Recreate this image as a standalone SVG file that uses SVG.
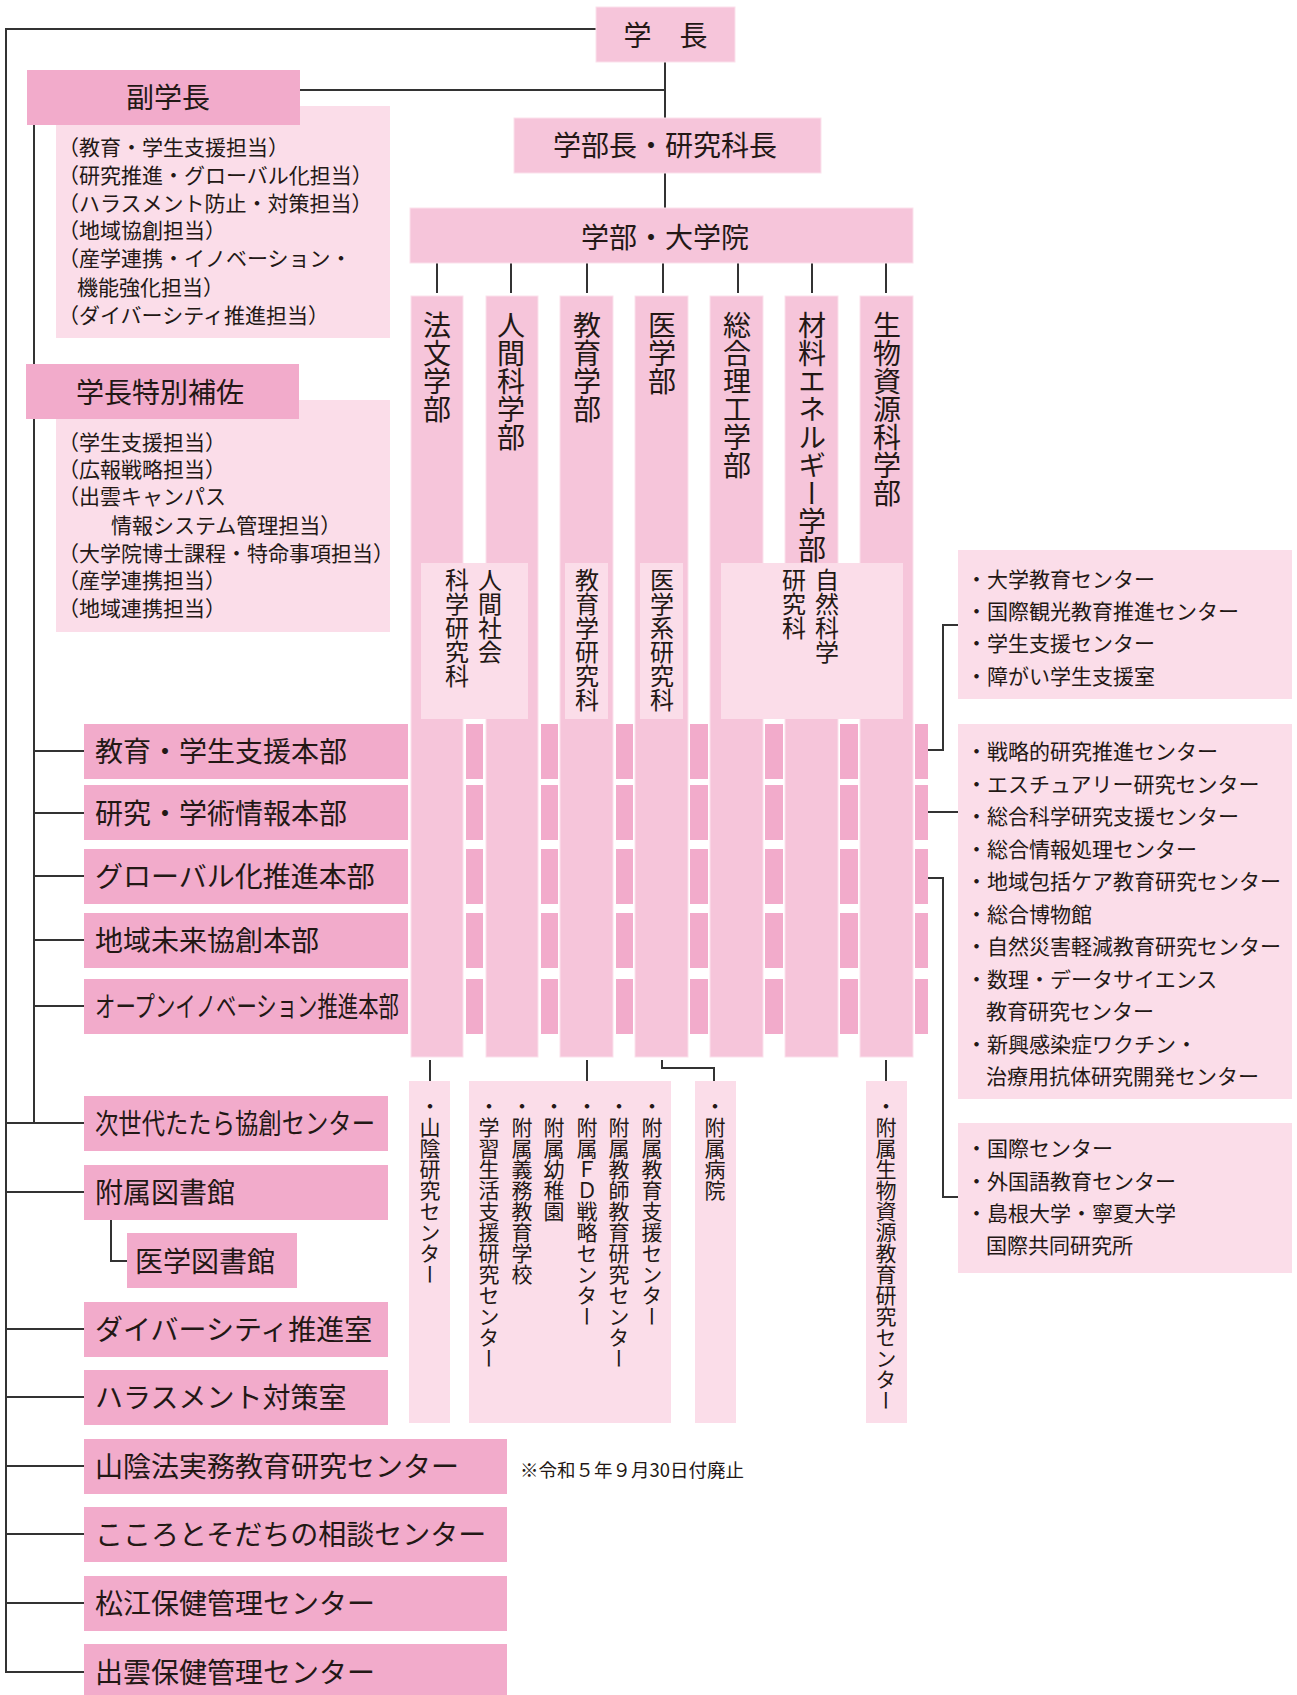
<svg xmlns="http://www.w3.org/2000/svg" width="1297" height="1695" viewBox="0 0 1297 1695">
<style>
text{font-family:"Noto Sans CJK JP","Noto Sans CJK SC",sans-serif;fill:#231815;dominant-baseline:central}
text:not(.v){transform:translateY(-1.5px)}
.dk{fill:#f2abcb}
.md{fill:#f6c5da;stroke:#fbe1ec;stroke-width:1}
.lt{fill:#fbdde9}
.t28{font-size:28px}
.t24{font-size:24px}
.t21{font-size:21px}
.c{text-anchor:middle}
.v{writing-mode:vertical-rl}
.ln{stroke:#333;stroke-width:2;fill:none}
</style>
<rect width="1297" height="1695" fill="#fff"/>
<g id="connectors">
<path class="ln" d="M596,29 H6 V1672 H84"/>
<path class="ln" d="M6,1123 H84 M6,1192 H84 M6,1329 H84 M6,1397 H84 M6,1466 H84 M6,1534 H84 M6,1603 H84"/>
<path class="ln" d="M300,90 H665 M34,125 V1123 M34,751 H84 M34,813 H84 M34,876 H84 M34,940 H84 M34,1006 H84"/>
<path class="ln" d="M665,62 V118 M665,173 V208"/>
<path class="ln" d="M437,263 V293 M511,263 V293 M587,263 V293 M663,263 V293 M738,263 V293 M812,263 V293 M886,263 V293"/>
<path class="ln" d="M430,1060 V1081 M587,1060 V1081 M662,1060 V1068 H714 V1081 M886,1060 V1081"/>
<path class="ln" d="M928,750 H943 V625 H958 M928,812 H958 M928,878 H943 V1197 H958"/>
<path class="ln" d="M111,1220 V1261 H127"/>
</g>

<g id="president"><rect class="md" x="596" y="7" width="139" height="55"/><text class="t28 c" x="665.5" y="35">学　長</text></g>

<g id="vice-president">
<rect class="lt" x="56" y="106" width="334" height="232"/>
<rect class="dk" x="27" y="70" width="273" height="55"/>
<text class="t28 c" x="168" y="97">副学長</text>
<text class="t21" x="58" y="147">（教育・学生支援担当）</text>
<text class="t21" x="58" y="175">（研究推進・グローバル化担当）</text>
<text class="t21" x="58" y="203">（ハラスメント防止・対策担当）</text>
<text class="t21" x="58" y="230">（地域協創担当）</text>
<text class="t21" x="58" y="258">（産学連携・イノベーション・</text>
<text class="t21" x="77" y="287">機能強化担当）</text>
<text class="t21" x="58" y="315">（ダイバーシティ推進担当）</text>
</g>

<g id="special-assistant">
<rect class="lt" x="56" y="400" width="334" height="232"/>
<rect class="dk" x="26" y="364" width="273" height="55"/>
<text class="t28 c" x="160" y="392">学長特別補佐</text>
<text class="t21" x="58" y="442">（学生支援担当）</text>
<text class="t21" x="58" y="469">（広報戦略担当）</text>
<text class="t21" x="58" y="496">（出雲キャンパス</text>
<text class="t21" x="111" y="525">情報システム管理担当）</text>
<text class="t21" x="58" y="553">（大学院博士課程・特命事項担当）</text>
<text class="t21" x="58" y="580">（産学連携担当）</text>
<text class="t21" x="58" y="608">（地域連携担当）</text>
</g>

<g id="deans"><rect class="md" x="514" y="118" width="307" height="55"/><text class="t28 c" x="665" y="145">学部長・研究科長</text></g>
<g id="faculties-header"><rect class="md" x="410" y="208" width="503" height="55"/><text class="t28 c" x="665" y="237">学部・大学院</text></g>

<g id="fac-law"><rect class="md" x="411" y="296" width="52" height="761"/><text class="t28 v" x="437" y="311">法文学部</text></g>
<g id="fac-human"><rect class="md" x="486" y="296" width="52" height="761"/><text class="t28 v" x="511" y="311">人間科学部</text></g>
<g id="fac-edu"><rect class="md" x="560" y="296" width="53" height="761"/><text class="t28 v" x="587" y="311">教育学部</text></g>
<g id="fac-med"><rect class="md" x="635" y="296" width="53" height="761"/><text class="t28 v" x="662" y="311">医学部</text></g>
<g id="fac-sci"><rect class="md" x="710" y="296" width="53" height="761"/><text class="t28 v" x="737" y="311">総合理工学部</text></g>
<g id="fac-mat"><rect class="md" x="785" y="296" width="53" height="761"/><text class="t28 v" x="812" y="311">材料エネルギー学部</text></g>
<g id="fac-bio"><rect class="md" x="860" y="296" width="53" height="761"/><text class="t28 v" x="887" y="311">生物資源科学部</text></g>

<g id="grad-human"><rect class="lt" x="421" y="563" width="107" height="156"/><text class="t24 v" x="490" y="568">人間社会</text><text class="t24 v" x="457" y="568">科学研究科</text></g>
<g id="grad-edu"><rect class="lt" x="565" y="563" width="43" height="156"/><text class="t24 v" x="587" y="568">教育学研究科</text></g>
<g id="grad-med"><rect class="lt" x="640" y="563" width="43" height="156"/><text class="t24 v" x="662" y="568">医学系研究科</text></g>
<g id="grad-nat"><rect class="lt" x="721" y="563" width="182" height="156"/><text class="t24 v" x="827" y="568">自然科学</text><text class="t24 v" x="794" y="568">研究科</text></g>

<g id="hq-edu">
<rect class="dk" x="84" y="724" width="324" height="55"/>
<rect class="dk" x="466" y="724" width="17" height="55"/><rect class="dk" x="541" y="724" width="17" height="55"/><rect class="dk" x="616" y="724" width="17" height="55"/><rect class="dk" x="690" y="724" width="18" height="55"/><rect class="dk" x="765" y="724" width="18" height="55"/><rect class="dk" x="840" y="724" width="18" height="55"/><rect class="dk" x="915" y="724" width="13" height="55"/>
<text class="t28" x="95" y="751">教育・学生支援本部</text>
</g>
<g id="hq-res">
<rect class="dk" x="84" y="785" width="324" height="55"/>
<rect class="dk" x="466" y="785" width="17" height="55"/><rect class="dk" x="541" y="785" width="17" height="55"/><rect class="dk" x="616" y="785" width="17" height="55"/><rect class="dk" x="690" y="785" width="18" height="55"/><rect class="dk" x="765" y="785" width="18" height="55"/><rect class="dk" x="840" y="785" width="18" height="55"/><rect class="dk" x="915" y="785" width="13" height="55"/>
<text class="t28" x="95" y="813">研究・学術情報本部</text>
</g>
<g id="hq-glo">
<rect class="dk" x="84" y="849" width="324" height="55"/>
<rect class="dk" x="466" y="849" width="17" height="55"/><rect class="dk" x="541" y="849" width="17" height="55"/><rect class="dk" x="616" y="849" width="17" height="55"/><rect class="dk" x="690" y="849" width="18" height="55"/><rect class="dk" x="765" y="849" width="18" height="55"/><rect class="dk" x="840" y="849" width="18" height="55"/><rect class="dk" x="915" y="849" width="13" height="55"/>
<text class="t28" x="95" y="876">グローバル化推進本部</text>
</g>
<g id="hq-reg">
<rect class="dk" x="84" y="913" width="324" height="55"/>
<rect class="dk" x="466" y="913" width="17" height="55"/><rect class="dk" x="541" y="913" width="17" height="55"/><rect class="dk" x="616" y="913" width="17" height="55"/><rect class="dk" x="690" y="913" width="18" height="55"/><rect class="dk" x="765" y="913" width="18" height="55"/><rect class="dk" x="840" y="913" width="18" height="55"/><rect class="dk" x="915" y="913" width="13" height="55"/>
<text class="t28" x="95" y="940">地域未来協創本部</text>
</g>
<g id="hq-oi">
<rect class="dk" x="84" y="979" width="324" height="55"/>
<rect class="dk" x="466" y="979" width="17" height="55"/><rect class="dk" x="541" y="979" width="17" height="55"/><rect class="dk" x="616" y="979" width="17" height="55"/><rect class="dk" x="690" y="979" width="18" height="55"/><rect class="dk" x="765" y="979" width="18" height="55"/><rect class="dk" x="840" y="979" width="18" height="55"/><rect class="dk" x="915" y="979" width="13" height="55"/>
<text class="t28" x="95" y="1006" textLength="304" lengthAdjust="spacingAndGlyphs">オープンイノベーション推進本部</text>
</g>

<g id="centers-a">
<rect class="lt" x="958" y="550" width="334" height="149"/>
<text class="t21" x="966" y="579">・大学教育センター</text>
<text class="t21" x="966" y="611">・国際観光教育推進センター</text>
<text class="t21" x="966" y="643">・学生支援センター</text>
<text class="t21" x="966" y="676">・障がい学生支援室</text>
</g>
<g id="centers-b">
<rect class="lt" x="958" y="724" width="334" height="375"/>
<text class="t21" x="966" y="751">・戦略的研究推進センター</text>
<text class="t21" x="966" y="784">・エスチュアリー研究センター</text>
<text class="t21" x="966" y="816">・総合科学研究支援センター</text>
<text class="t21" x="966" y="849">・総合情報処理センター</text>
<text class="t21" x="966" y="881">・地域包括ケア教育研究センター</text>
<text class="t21" x="966" y="914">・総合博物館</text>
<text class="t21" x="966" y="946">・自然災害軽減教育研究センター</text>
<text class="t21" x="966" y="979">・数理・データサイエンス</text>
<text class="t21" x="986" y="1011">教育研究センター</text>
<text class="t21" x="966" y="1044">・新興感染症ワクチン・</text>
<text class="t21" x="986" y="1076">治療用抗体研究開発センター</text>
</g>
<g id="centers-c">
<rect class="lt" x="958" y="1123" width="334" height="150"/>
<text class="t21" x="966" y="1148">・国際センター</text>
<text class="t21" x="966" y="1181">・外国語教育センター</text>
<text class="t21" x="966" y="1213">・島根大学・寧夏大学</text>
<text class="t21" x="986" y="1245">国際共同研究所</text>
</g>

<g id="att-law"><rect class="lt" x="409" y="1081" width="41" height="342"/><text class="t21 v" x="430" y="1096">・山陰研究センター</text></g>
<g id="att-edu">
<rect class="lt" x="469" y="1081" width="202" height="342"/>
<text class="t21 v" x="652" y="1096">・附属教育支援センター</text>
<text class="t21 v" x="619" y="1096">・附属教師教育研究センター</text>
<text class="t21 v" x="587" y="1096">・附属ＦＤ戦略センター</text>
<text class="t21 v" x="554" y="1096">・附属幼稚園</text>
<text class="t21 v" x="522" y="1096">・附属義務教育学校</text>
<text class="t21 v" x="489" y="1096">・学習生活支援研究センター</text>
</g>
<g id="att-med"><rect class="lt" x="695" y="1081" width="41" height="342"/><text class="t21 v" x="715" y="1096">・附属病院</text></g>
<g id="att-bio"><rect class="lt" x="866" y="1081" width="41" height="342"/><text class="t21 v" x="886" y="1096">・附属生物資源教育研究センター</text></g>

<g id="tatara"><rect class="dk" x="84" y="1096" width="304" height="55"/><text class="t28" x="95" y="1123" textLength="280" lengthAdjust="spacingAndGlyphs">次世代たたら協創センター</text></g>
<g id="library"><rect class="dk" x="84" y="1165" width="304" height="55"/><text class="t28" x="95" y="1192">附属図書館</text></g>
<g id="med-library"><rect class="dk" x="127" y="1233" width="170" height="55"/><text class="t28" x="135" y="1261">医学図書館</text></g>
<g id="diversity"><rect class="dk" x="84" y="1302" width="304" height="55"/><text class="t28" x="95" y="1329">ダイバーシティ推進室</text></g>
<g id="harassment"><rect class="dk" x="84" y="1370" width="304" height="55"/><text class="t28" x="95" y="1397">ハラスメント対策室</text></g>
<g id="sanin-law"><rect class="dk" x="84" y="1439" width="423" height="55"/><text class="t28" x="95" y="1466">山陰法実務教育研究センター</text></g>
<text id="note" x="520" y="1470" style="font-size:18.5px">※令和５年９月30日付廃止</text>
<g id="kokoro"><rect class="dk" x="84" y="1507" width="423" height="55"/><text class="t28" x="95" y="1534">こころとそだちの相談センター</text></g>
<g id="matsue"><rect class="dk" x="84" y="1576" width="423" height="55"/><text class="t28" x="95" y="1603">松江保健管理センター</text></g>
<g id="izumo"><rect class="dk" x="84" y="1644" width="423" height="55"/><text class="t28" x="95" y="1672">出雲保健管理センター</text></g>
</svg>
